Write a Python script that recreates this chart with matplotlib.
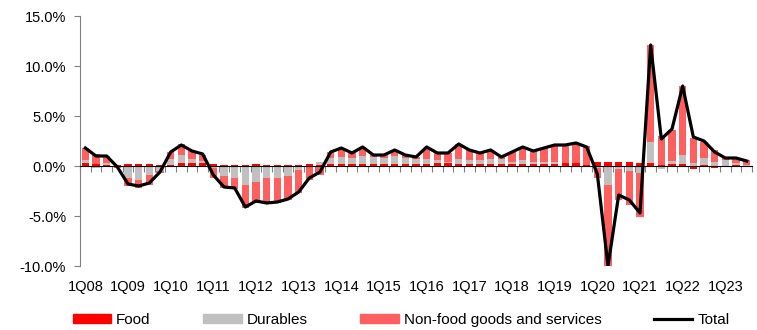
import numpy as np
import matplotlib.pyplot as plt
from matplotlib.patches import Patch
from matplotlib.lines import Line2D

plt.rcParams['font.family'] = ['Liberation Sans', 'DejaVu Sans']
plt.rcParams['font.size'] = 10.5

# quarterly contributions, 1Q08 - 3Q23 (percentage points)
years = list(range(2008, 2024))
quarters = [f"{q}Q{y % 100:02d}" for y in years for q in range(1, 5)][:63]

food = [0.3, 0.2, 0.1, 0.1, 0.2, 0.2, 0.2, 0.1, 0.1, 0.3, 0.3, 0.3,
        0.2, 0.1, 0.1, 0.1, 0.2, 0.1, 0.1, 0.1, 0.1, 0.2, 0.1, 0.25,
        0.25, 0.25, 0.25, 0.25, 0.25, 0.25, 0.25, 0.25, 0.25, 0.3, 0.3, 0.25,
        0.25, 0.25, 0.25, 0.25, 0.25, 0.25, 0.25, 0.25, 0.25, 0.3, 0.3, 0.1,
        0.45, 0.45, 0.45, 0.45, 0.35, 0.3, 0.1, 0.2, 0.2, -0.25, 0.1, -0.2,
        0.05, 0.1, 0.05]
durables = [0.3, -0.2, 0.2, -0.1, -1.2, -1.4, -0.9, -0.5, 0.6, 0.8, 0.4, 0.2,
            -0.2, -1.0, -1.2, -1.9, -1.6, -1.2, -1.2, -1.0, -0.4, -0.1, 0.3, 0.6,
            0.7, 0.55, 0.8, 0.7, 0.6, 0.8, 0.6, 0.5, 0.5, 0.3, 0.1, 0.5,
            0.4, 0.4, 0.5, 0.5, 0.2, 0.4, 0.2, 0.15, 0.2, 0.0, 0.0, 0.0,
            -0.2, -1.9, -0.3, -0.5, -0.7, 2.1, -0.3, 0.35, 0.9, 0.3, 0.75, 0.45,
            0.55, 0.2, 0.1]
nonfood = [1.2, 1.0, 0.7, -0.1, -0.8, -0.8, -1.0, -0.2, 0.7, 1.1, 0.8, 0.6,
           -0.95, -1.2, -1.1, -2.3, -2.1, -2.6, -2.5, -2.4, -2.3, -1.3, -0.9, 0.55,
           0.85, 0.5, 0.85, 0.15, 0.25, 0.55, 0.25, 0.15, 1.05, 0.7, 0.9, 1.45,
           0.95, 0.65, 0.85, 0.15, 0.95, 1.25, 1.05, 1.4, 1.6, 1.8, 1.95, 1.9,
           -1.0, -8.55, -3.1, -3.4, -4.4, 9.7, 2.9, 3.1, 6.9, 2.5, 1.6, 1.15,
           0.3, 0.45, 0.45]
total = [1.8, 1.0, 1.0, -0.1, -1.8, -2.0, -1.7, -0.6, 1.4, 2.1, 1.5, 1.2,
         -0.9, -2.1, -2.2, -4.1, -3.5, -3.7, -3.6, -3.3, -2.6, -1.2, -0.6, 1.4,
         1.8, 1.3, 1.9, 1.1, 1.1, 1.6, 1.1, 0.9, 1.9, 1.3, 1.3, 2.2,
         1.6, 1.3, 1.6, 0.9, 1.4, 1.9, 1.5, 1.8, 2.1, 2.1, 2.3, 1.9,
         -0.8, -10.0, -2.9, -3.4, -4.7, 12.1, 2.7, 3.7, 8.0, 2.9, 2.5, 1.4,
         0.8, 0.8, 0.5]

series = [("Food", food, "#ff0000"),
          ("Durables", durables, "#c0c0c0"),
          ("Non-food goods and services", nonfood, "#ff5f5f")]

fig = plt.figure(figsize=(7.57, 3.30), dpi=100)
ax = fig.add_axes([80 / 757, 1 - 266 / 330, 672 / 757, 250 / 330])

# stack positives upwards and negatives downwards, in series order
x = np.arange(len(quarters))
pos = np.zeros(len(x))
neg = np.zeros(len(x))
for name, vals, col in series:
    v = np.array(vals)
    bottom = np.where(v >= 0, pos, neg)
    ax.bar(x, v, bottom=bottom, width=0.7, color=col, linewidth=0, zorder=2)
    pos = pos + np.clip(v, 0, None)
    neg = neg + np.clip(v, None, 0)

ax.plot(x, total, color="black", lw=2.3, solid_joinstyle="round", zorder=4)

ax.set_xlim(-0.5, len(x) - 0.5)
ax.set_ylim(-10, 15)
ax.set_yticks(np.arange(-10, 16, 5))
ax.set_yticklabels([f"{t:.1f}%" for t in np.arange(-10, 16, 5)])

for s in ["top", "right"]:
    ax.spines[s].set_visible(False)
ax.spines["left"].set_color("#808080")
ax.spines["bottom"].set_position(("data", 0))
ax.spines["bottom"].set_color("black")
ax.spines["bottom"].set_zorder(5)

# quarter ticks sit on the zero line, year labels along the bottom
ax.set_xticks(np.arange(-0.5, len(x), 1))
ax.set_xticklabels([])
ax.tick_params(axis="x", length=4, color="#808080", direction="out")
ax.tick_params(axis="y", length=4, color="#808080", pad=6, labelsize=10.5)

lab = ax.secondary_xaxis("bottom")
lab.set_xticks(x[::4], quarters[::4])
lab.tick_params(length=0, pad=10, labelsize=10.5)
lab.spines["bottom"].set_visible(False)

handles = [Patch(color=c, label=n) for n, _, c in series]
handles.append(Line2D([], [], color="black", lw=2.3, label="Total"))
fig.legend(handles=handles, loc="center left", bbox_to_anchor=(73 / 757, 1 - 320 / 330),
           ncol=4, frameon=False, borderpad=0, borderaxespad=0,
           handlelength=2.5, handleheight=0.46, handletextpad=0.33,
           columnspacing=3.45, fontsize=11)

fig.savefig("out.png", dpi=100)
